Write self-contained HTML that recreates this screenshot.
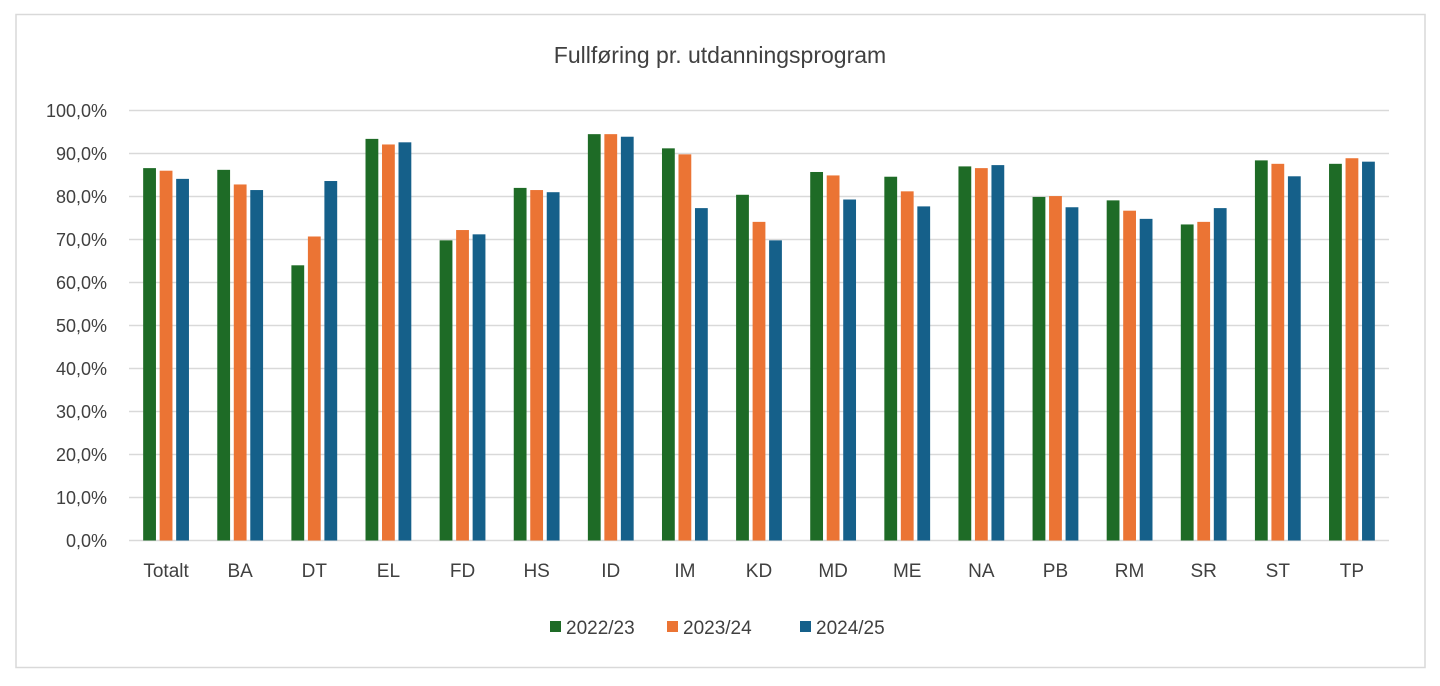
<!DOCTYPE html>
<html><head><meta charset="utf-8"><style>
body{margin:0;background:#fff;}
svg text{font-family:"Liberation Sans",sans-serif;fill:#404040;}
</style></head><body>
<svg width="1440" height="681" xmlns="http://www.w3.org/2000/svg">
<rect x="16" y="14.5" width="1409" height="653" fill="#fff" stroke="#d9d9d9" stroke-width="1.5"/>
<text x="720" y="63" font-size="23" text-anchor="middle">Fullføring pr. utdanningsprogram</text>
<g id="grid"></g>
<g id="yticks"></g>
<g id="bars"></g>
<g id="xticks"></g>
<g id="legend"></g>
</svg>
<script>
const categories=["Totalt","BA","DT","EL","FD","HS","ID","IM","KD","MD","ME","NA","PB","RM","SR","ST","TP"];
const s2022=[86.6,86.2,64.0,93.4,69.8,82.0,94.5,91.2,80.4,85.7,84.6,87.0,79.9,79.1,73.5,88.4,87.6];
const s2023=[86.0,82.8,70.7,92.1,72.2,81.5,94.5,89.8,74.1,84.9,81.2,86.6,80.1,76.7,74.1,87.6,88.9];
const s2024=[84.1,81.5,83.6,92.6,71.2,81.0,93.9,77.3,69.8,79.3,77.7,87.3,77.5,74.8,77.3,84.7,88.1];
const seriesNames=["2022/23","2023/24","2024/25"];
const yTicks=[0,10,20,30,40,50,60,70,80,90,100];
const colors=["#1e6b26","#eb7434","#15608a"];
const NS="http://www.w3.org/2000/svg";
const x0=129,x1=1389,y0=540.5,y100=110.5;
const y=v=>y0-(v/100)*(y0-y100);
const step=(x1-x0)/categories.length;
const xc=i=>x0+step*(i+0.5);
function mk(t,a,p){const e=document.createElementNS(NS,t);for(const k in a)e.setAttribute(k,a[k]);p.appendChild(e);return e;}
const grid=document.getElementById('grid'),yt=document.getElementById('yticks'),bars=document.getElementById('bars'),xt=document.getElementById('xticks'),lg=document.getElementById('legend');
yTicks.forEach(v=>{
 const l=mk('line',{x1:x0,x2:x1,y1:y(v),y2:y(v),stroke:'#d9d9d9','stroke-width':1.5},grid);
 
 
 const t=mk('text',{x:107,y:y(v)+6.5,'font-size':18,'text-anchor':'end'},yt);
 t.textContent=v.toFixed(1).replace('.',',')+'%';
 
 
});
const series=[s2022,s2023,s2024];
const bw=12.8,bs=16.5;
categories.forEach((c,i)=>{
 series.forEach((s,j)=>{
  const cx=xc(i)+(j-1)*bs;
  const r=mk('rect',{x:cx-bw/2,y:y(s[i]),width:bw,height:y0-y(s[i]),fill:colors[j]},bars);
  
  
 });
 const t=mk('text',{x:xc(i),y:577,'font-size':19,'text-anchor':'middle'},xt);
 t.textContent=c;
 
 
});
const lx=[550,667,800];
seriesNames.forEach((n,j)=>{
 const g=mk('g',{},lg);
 
 
 mk('rect',{x:lx[j],y:621,width:11,height:11,fill:colors[j]},g);
 const t=mk('text',{x:lx[j]+16,y:634,'font-size':19},g);
 t.textContent=n;
});
</script>
</body></html>
